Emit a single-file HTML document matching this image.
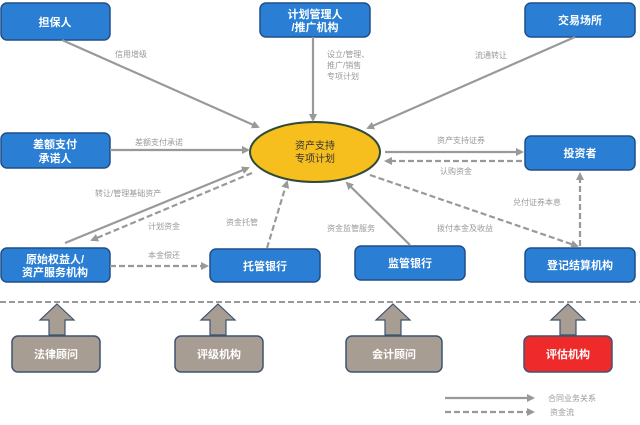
<!DOCTYPE html>
<html><head><meta charset="utf-8"><style>
html,body{margin:0;padding:0;background:#fff;width:640px;height:425px;overflow:hidden}
svg text{font-family:"Liberation Sans","Noto Sans CJK SC",sans-serif}
.b{fill:#2a7fd4;stroke:#1f4f8a;stroke-width:1.5}
.g{fill:#a79d92;stroke:#3d5470;stroke-width:1.5}
.t{fill:#fff;font-size:11px;font-weight:bold;text-anchor:middle}
.l{fill:#999;font-size:8px}
.s{stroke:#999;stroke-width:2.2;fill:none}
.d{stroke:#999;stroke-width:2.2;fill:none;stroke-dasharray:6 3}
</style></head><body>
<svg width="640" height="425" viewBox="0 0 640 425">
<defs><marker id="a" markerWidth="8" markerHeight="8" refX="6" refY="4" orient="auto" markerUnits="userSpaceOnUse"><path d="M0,0 L8,4 L0,8 Z" fill="#999"/></marker></defs>
<!-- top boxes -->
<rect class="b" x="1" y="3" width="109" height="37" rx="6"/><text class="t" x="55" y="26">担保人</text>
<rect class="b" x="260" y="3" width="110" height="34" rx="6"/><text class="t" x="315" y="18">计划管理人</text><text class="t" x="315" y="31">/推广机构</text>
<rect class="b" x="525" y="3" width="110" height="34" rx="6"/><text class="t" x="580" y="24">交易场所</text>
<rect class="b" x="1" y="133" width="109" height="35" rx="6"/><text class="t" x="55" y="148">差额支付</text><text class="t" x="55" y="162">承诺人</text>
<rect class="b" x="525" y="136" width="110" height="34" rx="6"/><text class="t" x="580" y="157">投资者</text>
<ellipse cx="315" cy="152" rx="65" ry="30" fill="#f7bf1e" stroke="#2d4a3a" stroke-width="2"/>
<text x="315" y="149" text-anchor="middle" font-size="10" fill="#333">资产支持</text>
<text x="315" y="162" text-anchor="middle" font-size="10" fill="#333">专项计划</text>
<!-- mid boxes -->
<rect class="b" x="1" y="248" width="109" height="34" rx="6"/><text class="t" x="55" y="263">原始权益人/</text><text class="t" x="55" y="276">资产服务机构</text>
<rect class="b" x="210" y="249" width="110" height="33" rx="6"/><text class="t" x="265" y="270">托管银行</text>
<rect class="b" x="355" y="246" width="110" height="34" rx="6"/><text class="t" x="410" y="267">监管银行</text>
<rect class="b" x="525" y="248" width="110" height="34" rx="6"/><text class="t" x="580" y="269">登记结算机构</text>
<!-- connectors -->
<line class="s" x1="62" y1="40" x2="258" y2="127" marker-end="url(#a)"/><text class="l" x="115" y="57">信用增级</text>
<line class="s" x1="313" y1="37" x2="313" y2="120" marker-end="url(#a)"/>
<text class="l" x="327" y="57">设立/管理、</text><text class="l" x="327" y="68">推广/销售</text><text class="l" x="327" y="79">专项计划</text>
<line class="s" x1="575" y1="37" x2="368" y2="128" marker-end="url(#a)"/><text class="l" x="475" y="58">流通转让</text>
<line class="s" x1="110" y1="150" x2="248" y2="150" marker-end="url(#a)"/><text class="l" x="135" y="145">差额支付承诺</text>
<line class="s" x1="385" y1="152" x2="522" y2="152" marker-end="url(#a)"/><text class="l" x="437" y="143">资产支持证券</text>
<line class="d" x1="522" y1="161" x2="386" y2="161" marker-end="url(#a)"/><text class="l" x="440" y="174">认购资金</text>
<line class="s" x1="65" y1="243" x2="248" y2="168" marker-end="url(#a)"/><text class="l" x="95" y="196">转让/管理基础资产</text>
<line class="d" x1="252" y1="173" x2="92" y2="240" marker-end="url(#a)"/><text class="l" x="148" y="229">计划资金</text>
<line class="d" x1="110" y1="266" x2="207" y2="266" marker-end="url(#a)"/><text class="l" x="148" y="258">本金偿还</text>
<line class="d" x1="267" y1="248" x2="287" y2="182" marker-end="url(#a)"/><text class="l" x="226" y="225">资金托管</text>
<line class="s" x1="410" y1="245" x2="347" y2="183" marker-end="url(#a)"/><text class="l" x="327" y="231">资金监管服务</text>
<line class="d" x1="370" y1="175" x2="577" y2="246" marker-end="url(#a)"/><text class="l" x="437" y="231">拨付本金及收益</text>
<line class="d" x1="580" y1="246" x2="580" y2="174" marker-end="url(#a)"/><text class="l" x="513" y="205">兑付证券本息</text>
<!-- divider -->
<line x1="0" y1="302" x2="640" y2="302" stroke="#999" stroke-width="2" stroke-dasharray="6 3"/>
<!-- up arrows -->
<g fill="#a79d92" stroke="#3d5470" stroke-width="1.2">
<path d="M57,304 L74,320 L65,320 L65,335 L49,335 L49,320 L40,320 Z"/>
<path d="M218,304 L235,320 L226,320 L226,335 L210,335 L210,320 L201,320 Z"/>
<path d="M393,304 L410,320 L401,320 L401,335 L385,335 L385,320 L376,320 Z"/>
<path d="M568,304 L585,320 L576,320 L576,335 L560,335 L560,320 L551,320 Z"/>
</g>
<rect class="g" x="12" y="336" width="88" height="36" rx="6"/><text class="t" x="56" y="358">法律顾问</text>
<rect class="g" x="175" y="336" width="88" height="36" rx="6"/><text class="t" x="219" y="358">评级机构</text>
<rect class="g" x="346" y="336" width="96" height="36" rx="6"/><text class="t" x="394" y="358">会计顾问</text>
<rect x="524" y="336" width="88" height="36" rx="6" fill="#ee2a2a" stroke="#3d5470" stroke-width="1.5"/><text class="t" x="568" y="358">评估机构</text>
<!-- legend -->
<line class="s" x1="445" y1="398" x2="533" y2="398" marker-end="url(#a)"/>
<line class="d" x1="445" y1="412" x2="533" y2="412" marker-end="url(#a)"/>
<text class="l" x="548" y="401">合同业务关系</text>
<text class="l" x="550" y="415">资金流</text>
</svg>
</body></html>
